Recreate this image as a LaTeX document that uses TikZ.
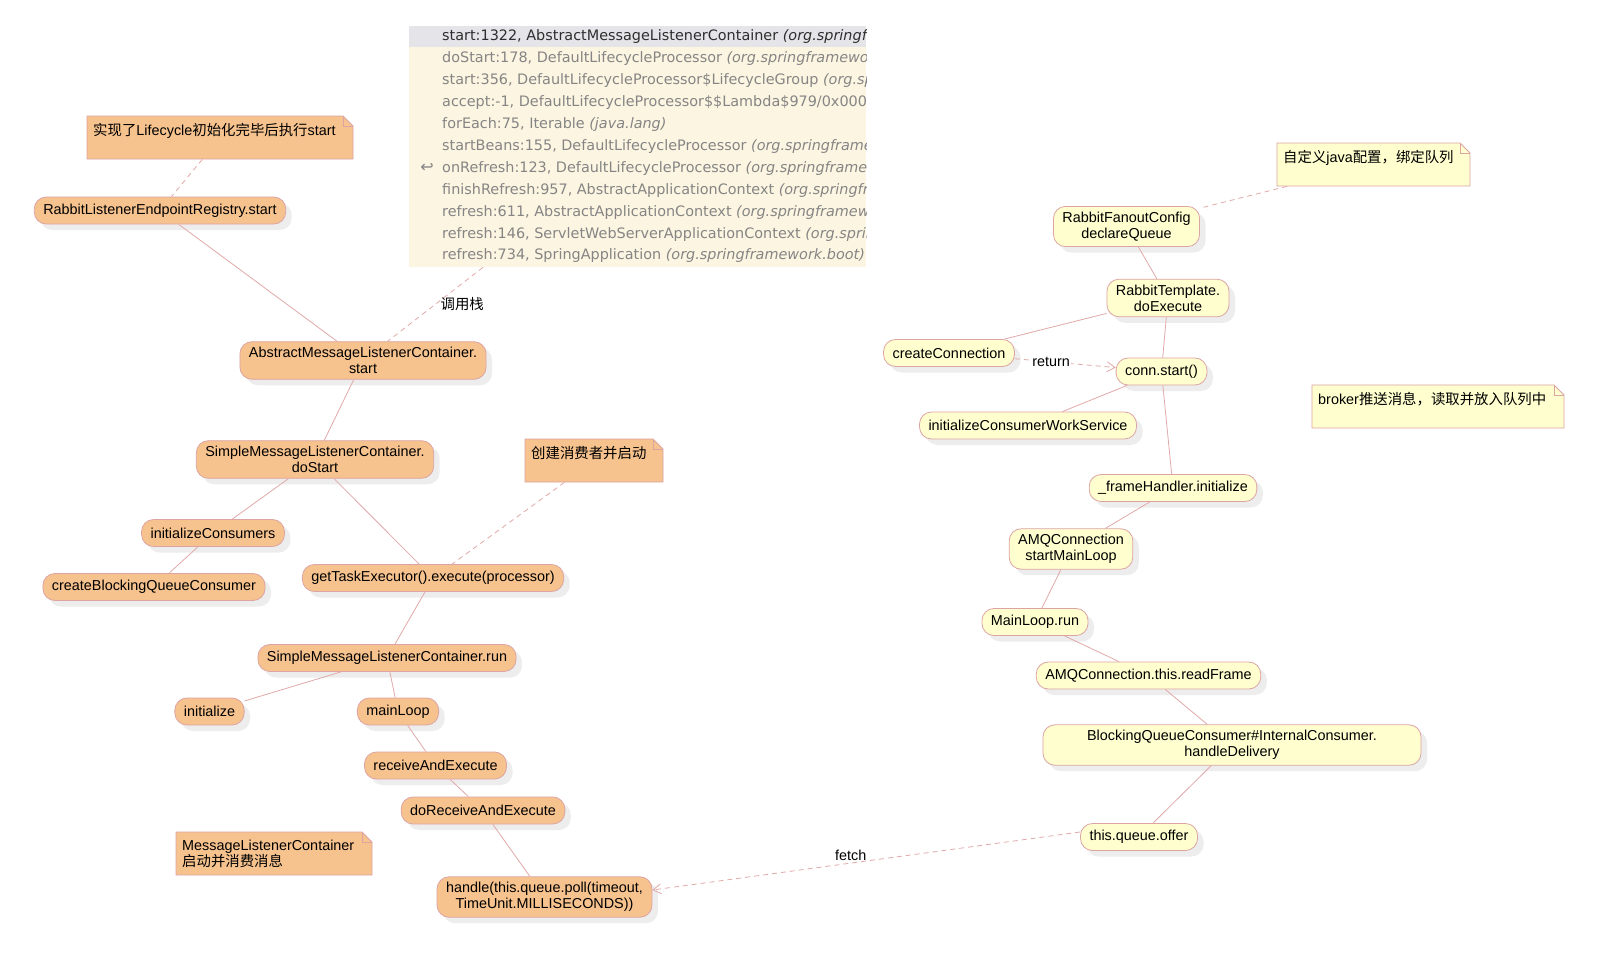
\documentclass[tikz,border=0pt]{standalone}
\usepackage{fontspec}
\setmainfont{Liberation Sans}
\newfontfamily\cjk{Noto Sans CJK SC}
\newfontfamily\symfont{DejaVu Sans}
\usetikzlibrary{arrows.meta,shadows}
\definecolor{nodeorange}{HTML}{F6C28E}
\definecolor{nodeyellow}{HTML}{FEFECE}
\definecolor{rimpink}{HTML}{DDA4A4}
\definecolor{linkpink}{HTML}{E2A9A9}
\definecolor{stackbg}{HTML}{FCF5E1}
\definecolor{stacktop}{HTML}{E5E5E9}
\definecolor{stackgrey}{HTML}{858585}

\begin{document}
\begin{tikzpicture}[x=1pt,y=-1pt,
	call/.style={draw=rimpink,line width=0.8pt,rounded corners=12pt,align=center,
		inner xsep=9pt,inner ysep=5.5pt,minimum height=27pt,font=\fontsize{14.4}{16}\selectfont,
		drop shadow={shadow xshift=6pt,shadow yshift=-6pt,fill=black!7,opacity=1}},
	orangecall/.style={call,fill=nodeorange},
	yellowcall/.style={call,fill=nodeyellow},
	notetext/.style={anchor=north west,inner xsep=6pt,inner ysep=0pt,align=left,
		minimum height=43pt,font=\fontsize{14.4}{16}\selectfont},
	noteline/.style={draw=rimpink,line width=0.8pt},
	link/.style={draw=linkpink,line width=0.8pt},
	hint/.style={link,dash pattern=on 5pt off 4pt},
	stackrow/.style={anchor=west,inner sep=0pt,font=\symfont\fontsize{14.4}{15}\selectfont},
	lbl/.style={font=\fontsize{14.4}{16}\selectfont,inner sep=1pt}]

	\path[fill=white,use as bounding box] (0,0) rectangle (1600,958);

	% call stack
	\node[fill=stackbg,anchor=north west,minimum width=457pt,minimum height=241pt,inner sep=0pt] (stack) at (409,26) {};
	\fill[stacktop] (409,26) rectangle (866,47);
	\begin{scope}
		\clip (409,26) rectangle (866,267);
		\node[stackrow,text=black!82] (row1) at (442,37) {start:1322, AbstractMessageListenerContainer \textit{(org.springfra}};
		\foreach \t [count=\i from 2] in {{doStart:178, DefaultLifecycleProcessor \textit{(org.springframewor}},
			{start:356, DefaultLifecycleProcessor\$LifecycleGroup \textit{(org.spr}},
			{accept:-1, DefaultLifecycleProcessor\$\$Lambda\$979/0x0000},
			{forEach:75, Iterable \textit{(java.lang)}},
			{startBeans:155, DefaultLifecycleProcessor \textit{(org.springframe}},
			{onRefresh:123, DefaultLifecycleProcessor \textit{(org.springframew}},
			{finishRefresh:957, AbstractApplicationContext \textit{(org.springfr}},
			{refresh:611, AbstractApplicationContext \textit{(org.springframewo}},
			{refresh:146, ServletWebServerApplicationContext \textit{(org.sprin}},
			{refresh:734, SpringApplication \textit{(org.springframework.boot)}}}
		\node[stackrow,text=stackgrey] (row\i) at (442,{37+21.9*(\i-1)}) {\t};
	\end{scope}
	\node[text=stackgrey,inner sep=0pt,font=\symfont\fontsize{16}{16}\selectfont] (backicon) at (427,168) {↩};

	% notes
	\filldraw[noteline,fill=nodeorange] (87,116) -- (343,116) -- (353,126) -- (353,159) -- (87,159) -- cycle;
	\draw[noteline] (343,116) -- (343,126) -- (353,126);
	\node[notetext,text width=254pt] (nlife) at (87,116) {{\cjk 实现了}Lifecycle{\cjk 初始化完毕后执行}start\\~};

	\filldraw[noteline,fill=nodeorange] (525,439) -- (653,439) -- (663,449) -- (663,482) -- (525,482) -- cycle;
	\draw[noteline] (653,439) -- (653,449) -- (663,449);
	\node[notetext,text width=126pt] (ncreate) at (525,439) {{\cjk 创建消费者并启动}\\~};

	\filldraw[noteline,fill=nodeorange] (176,832) -- (362,832) -- (372,842) -- (372,875) -- (176,875) -- cycle;
	\draw[noteline] (362,832) -- (362,842) -- (372,842);
	\node[notetext,text width=184pt] (nstart) at (176,832) {MessageListenerContainer\\{\cjk 启动并消费消息}};

	\filldraw[noteline,fill=nodeyellow] (1277,143) -- (1460,143) -- (1470,153) -- (1470,186) -- (1277,186) -- cycle;
	\draw[noteline] (1460,143) -- (1460,153) -- (1470,153);
	\node[notetext,text width=181pt] (nconfig) at (1277,143) {{\cjk 自定义}java{\cjk 配置，绑定队列}\\~};

	\filldraw[noteline,fill=nodeyellow] (1312,385) -- (1554,385) -- (1564,395) -- (1564,428) -- (1312,428) -- cycle;
	\draw[noteline] (1554,385) -- (1554,395) -- (1564,395);
	\node[notetext,text width=240pt] (nbroker) at (1312,385) {broker{\cjk 推送消息，读取并放入队列中}\\~};

	% consumer side
	\node[orangecall] (rles) at (160,210.5) {RabbitListenerEndpointRegistry.start};
	\node[orangecall] (amlc) at (363,360.5) {AbstractMessageListenerContainer.\\start};
	\node[orangecall] (dostart) at (315,459.5) {SimpleMessageListenerContainer.\\doStart};
	\node[orangecall] (initcons) at (213,533) {initializeConsumers};
	\node[orangecall] (createbqc) at (154,587) {createBlockingQueueConsumer};
	\node[orangecall] (gettask) at (433,578) {getTaskExecutor().execute(processor)};
	\node[orangecall] (smlcrun) at (387,658) {SimpleMessageListenerContainer.run};
	\node[orangecall] (init) at (209.5,711.5) {initialize};
	\node[orangecall] (mainloop) at (398,711.5) {mainLoop};
	\node[orangecall] (recv) at (435.5,765.5) {receiveAndExecute};
	\node[orangecall] (dorecv) at (483,810.5) {doReceiveAndExecute};
	\node[orangecall] (handle) at (544.5,897) {handle(this.queue.poll(timeout,\\TimeUnit.MILLISECONDS))};

	% broker side
	\node[yellowcall] (rfc) at (1126.5,226.5) {RabbitFanoutConfig\\declareQueue};
	\node[yellowcall] (rtexec) at (1168,298) {RabbitTemplate.\\doExecute};
	\node[yellowcall] (createconn) at (949,353) {createConnection};
	\node[yellowcall] (connstart) at (1161.5,371.5) {conn.start()};
	\node[yellowcall] (initcws) at (1028,425.5) {initializeConsumerWorkService};
	\node[yellowcall] (framehandler) at (1173,488) {\_frameHandler.initialize};
	\node[yellowcall] (amqloop) at (1071,549) {AMQConnection\\startMainLoop};
	\node[yellowcall] (mainrun) at (1035,622) {MainLoop.run};
	\node[yellowcall] (readframe) at (1148.5,675.5) {AMQConnection.this.readFrame};
	\node[yellowcall,minimum width=378pt] (delivery) at (1232,745) {BlockingQueueConsumer\#InternalConsumer.\\handleDelivery};
	\node[yellowcall] (offer) at (1139,837) {this.queue.offer};

	% connectors
	\draw[hint] (nlife) -- (rles);
	\draw[link] (rles) -- (amlc);
	\draw[hint] (stack) -- node[lbl,right=4pt] (stacklbl) {\cjk 调用栈} (amlc);
	\draw[link] (amlc) -- (dostart);
	\draw[link] (dostart) -- (initcons);
	\draw[link] (initcons) -- (createbqc);
	\draw[link] (dostart) -- (gettask);
	\draw[hint] (ncreate) -- (gettask);
	\draw[link] (gettask) -- (smlcrun);
	\draw[link] (smlcrun) -- (init);
	\draw[link] (smlcrun) -- (mainloop);
	\draw[link] (mainloop) -- (recv);
	\draw[link] (recv) -- (dorecv);
	\draw[link] (dorecv) -- (handle);

	\draw[hint] (nconfig) -- (rfc);
	\draw[link] (rfc) -- (rtexec);
	\draw[link] (rtexec) -- (createconn);
	\draw[link] (rtexec) -- (connstart);
	\draw[hint,-{Straight Barb[length=8pt,width=10pt]}] (createconn) -- node[lbl,pos=0.36,fill=white] (returnlbl) {return} (connstart);
	\draw[link] (connstart) -- (initcws);
	\draw[link] (connstart) -- (framehandler);
	\draw[link] (framehandler) -- (amqloop);
	\draw[link] (amqloop) -- (mainrun);
	\draw[link] (mainrun) -- (readframe);
	\draw[link] (readframe) -- (delivery);
	\draw[link] (delivery) -- (offer);
	\draw[hint,-{Straight Barb[length=8pt,width=10pt]}] ([yshift=5pt]offer.west) -- node[lbl,pos=0.536,above=1pt] (fetchlbl) {fetch} ([yshift=7pt]handle.east);

\end{tikzpicture}
\end{document}
